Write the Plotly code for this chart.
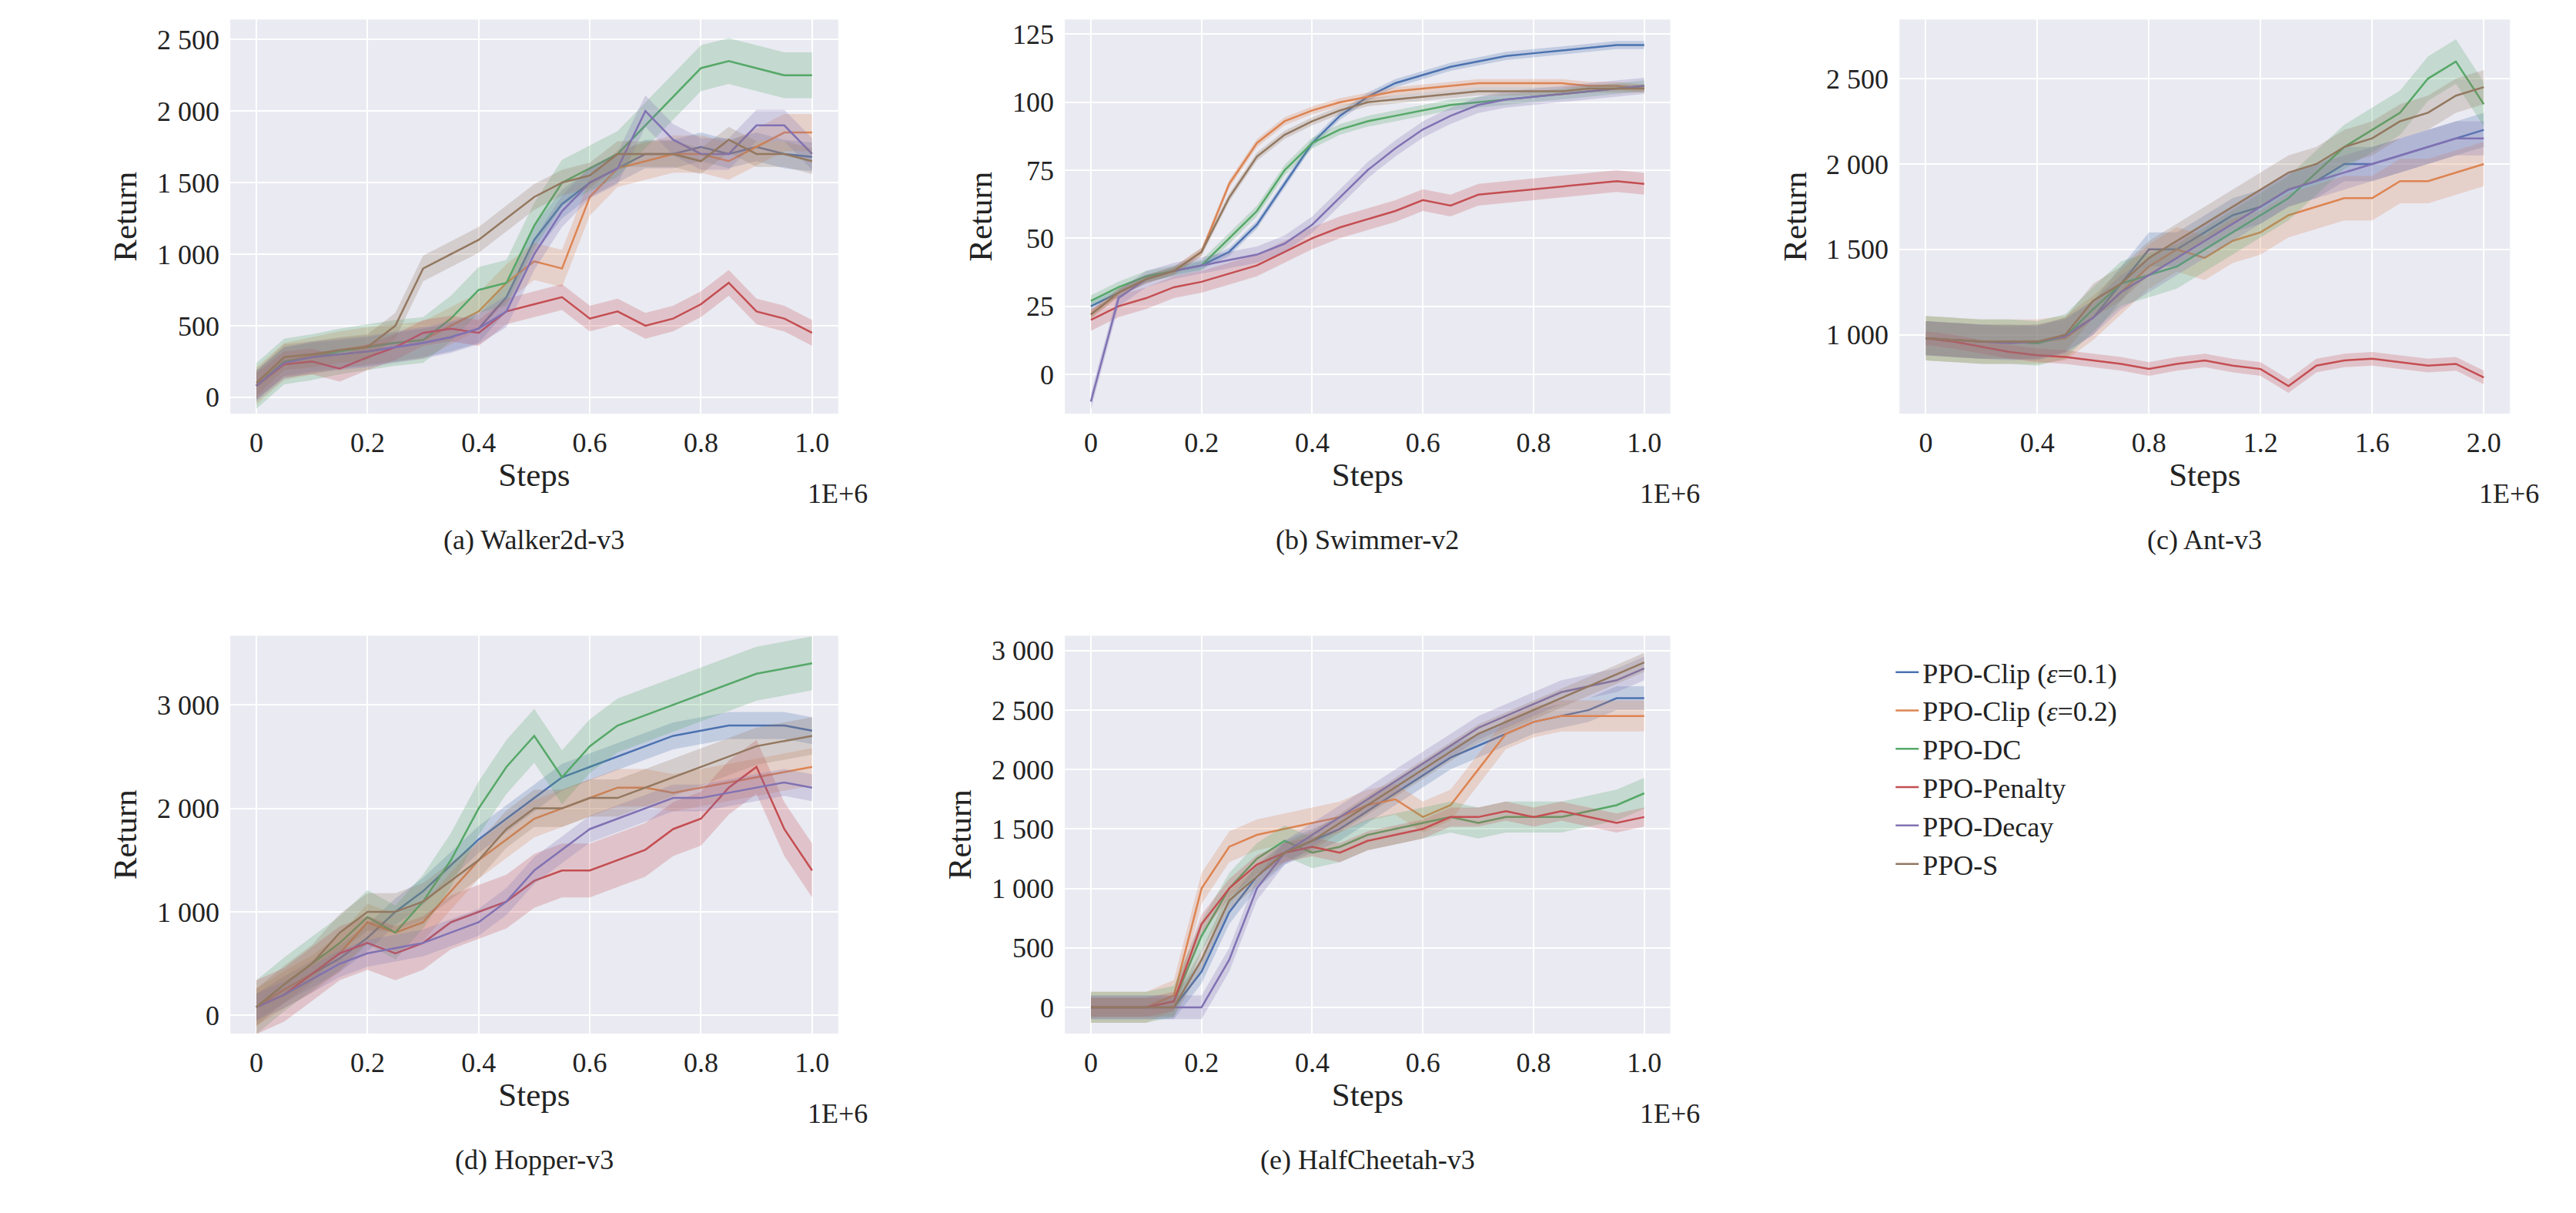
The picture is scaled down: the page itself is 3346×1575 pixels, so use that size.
import plotly.graph_objects as go

names = ['PPO-Clip (<i>ε</i>=0.1)', 'PPO-Clip (<i>ε</i>=0.2)', 'PPO-DC', 'PPO-Penalty', 'PPO-Decay', 'PPO-S']
colors = ['#4C72B0', '#DD8452', '#55A868', '#C44E52', '#8172B3', '#937860']

steps = [i * 0.05 for i in range(21)]
steps_ant = [i * 0.1 for i in range(21)]

walker = [
    [80, 250, 280, 300, 320, 350, 380, 420, 480, 700, 1100, 1350, 1500, 1600, 1700, 1700, 1750, 1700, 1750, 1700, 1680],
    [80, 250, 290, 330, 360, 380, 400, 500, 600, 800, 950, 900, 1400, 1600, 1650, 1700, 1700, 1650, 1750, 1850, 1850],
    [80, 250, 280, 320, 350, 380, 400, 550, 750, 800, 1200, 1500, 1600, 1700, 1900, 2100, 2300, 2350, 2300, 2250, 2250],
    [80, 230, 250, 200, 280, 350, 450, 480, 450, 600, 650, 700, 550, 600, 500, 550, 650, 800, 600, 550, 450],
    [80, 240, 280, 300, 320, 350, 380, 420, 480, 600, 1000, 1300, 1500, 1600, 2000, 1800, 1700, 1700, 1900, 1900, 1700],
    [100, 280, 300, 330, 350, 500, 900, 1000, 1100, 1250, 1400, 1500, 1550, 1700, 1700, 1700, 1650, 1800, 1700, 1700, 1650],
]
walker_band = [100, 130, 160, 90, 110, 90]

swimmer = [
    [25, 30, 35, 38, 40, 45, 55, 70, 85, 95, 102, 107, 110, 113, 115, 117, 118, 119, 120, 121, 121],
    [22, 30, 35, 38, 45, 70, 85, 93, 97, 100, 102, 104, 105, 106, 107, 107, 107, 107, 106, 106, 105],
    [27, 32, 36, 38, 40, 50, 60, 75, 85, 90, 93, 95, 97, 99, 100, 101, 102, 103, 104, 105, 106],
    [20, 25, 28, 32, 34, 37, 40, 45, 50, 54, 57, 60, 64, 62, 66, 67, 68, 69, 70, 71, 70],
    [-10, 28, 35, 38, 40, 42, 44, 48, 55, 65, 75, 83, 90, 95, 99, 101, 102, 103, 104, 105, 106],
    [22, 30, 35, 38, 45, 65, 80, 88, 93, 97, 100, 101, 102, 103, 104, 104, 104, 104, 105, 105, 105],
]
swimmer_band = [1.5, 1.5, 2, 4, 3, 1.5]

ant = [
    [980, 970, 960, 960, 950, 1000, 1100, 1300, 1500, 1500, 1600, 1700, 1750, 1850, 1900, 2000, 2000, 2050, 2100, 2150, 2200],
    [980, 970, 960, 960, 960, 980, 1100, 1250, 1400, 1500, 1450, 1550, 1600, 1700, 1750, 1800, 1800, 1900, 1900, 1950, 2000],
    [980, 970, 960, 960, 950, 990, 1150, 1300, 1350, 1400, 1500, 1600, 1700, 1800, 1950, 2100, 2200, 2300, 2500, 2600, 2350],
    [980, 960, 930, 900, 880, 870, 850, 830, 800, 830, 850, 820, 800, 700, 820, 850, 860, 840, 820, 830, 750],
    [980, 970, 960, 950, 960, 990, 1100, 1250, 1350, 1450, 1550, 1650, 1750, 1850, 1900, 1950, 2000, 2050, 2100, 2150, 2150],
    [980, 970, 960, 960, 960, 1000, 1200, 1300, 1450, 1550, 1650, 1750, 1850, 1950, 2000, 2100, 2150, 2250, 2300, 2400, 2450],
]
ant_band = [100, 130, 130, 40, 100, 100]

hopper = [
    [80, 250, 400, 550, 750, 1000, 1200, 1450, 1700, 1900, 2100, 2300, 2400, 2500, 2600, 2700, 2750, 2800, 2800, 2800, 2750],
    [80, 250, 400, 600, 900, 800, 900, 1200, 1500, 1700, 1900, 2000, 2100, 2200, 2200, 2150, 2200, 2250, 2300, 2350, 2400],
    [80, 300, 500, 700, 950, 800, 1100, 1500, 2000, 2400, 2700, 2300, 2600, 2800, 2900, 3000, 3100, 3200, 3300, 3350, 3400],
    [80, 200, 400, 600, 700, 600, 700, 900, 1000, 1100, 1300, 1400, 1400, 1500, 1600, 1800, 1900, 2200, 2400, 1800, 1400],
    [80, 200, 350, 500, 600, 650, 700, 800, 900, 1100, 1400, 1600, 1800, 1900, 2000, 2100, 2100, 2150, 2200, 2250, 2200],
    [80, 300, 500, 800, 1000, 1000, 1100, 1300, 1500, 1800, 2000, 2000, 2100, 2100, 2200, 2300, 2400, 2500, 2600, 2650, 2700],
]
hopper_band = [130, 180, 260, 260, 130, 180]

cheetah = [
    [0, 0, 0, 0, 300, 800, 1100, 1300, 1400, 1500, 1650, 1800, 1950, 2100, 2200, 2300, 2400, 2450, 2500, 2600, 2600],
    [0, 0, 0, 100, 1000, 1350, 1450, 1500, 1550, 1600, 1700, 1750, 1600, 1700, 2000, 2300, 2400, 2450, 2450, 2450, 2450],
    [0, 0, 0, 50, 600, 1000, 1250, 1400, 1300, 1350, 1450, 1500, 1550, 1600, 1550, 1600, 1600, 1600, 1650, 1700, 1800],
    [0, 0, 0, 50, 700, 1000, 1200, 1300, 1350, 1300, 1400, 1450, 1500, 1600, 1600, 1650, 1600, 1650, 1600, 1550, 1600],
    [0, 0, 0, 0, 0, 400, 1000, 1300, 1450, 1600, 1750, 1900, 2050, 2200, 2350, 2450, 2550, 2650, 2700, 2750, 2850],
    [0, 0, 0, 0, 400, 900, 1100, 1300, 1400, 1550, 1700, 1850, 2000, 2150, 2300, 2400, 2500, 2600, 2700, 2800, 2900],
]
cheetah_band = [100, 130, 130, 80, 100, 80]


def rgba(h, a):
    h = h.lstrip('#')
    return 'rgba(%d,%d,%d,%s)' % (int(h[0:2], 16), int(h[2:4], 16), int(h[4:6], 16), a)


def sp(v):
    return f'{v:,}'.replace(',', ' ')


panels = [
    (walker, walker_band, steps, [0.087, 0.323], [0.664, 0.989], [-115, 2640], [0, 500, 1000, 1500, 2000, 2500],
     [-0.047, 1.047], [0, 0.2, 0.4, 0.6, 0.8, 1.0], '(a) Walker2d-v3'),
    (swimmer, swimmer_band, steps, [0.411, 0.646], [0.664, 0.989], [-14.5, 130.4], [0, 25, 50, 75, 100, 125],
     [-0.047, 1.047], [0, 0.2, 0.4, 0.6, 0.8, 1.0], '(b) Swimmer-v2'),
    (ant, ant_band, steps_ant, [0.735, 0.972], [0.664, 0.989], [538, 2846], [1000, 1500, 2000, 2500],
     [-0.094, 2.094], [0, 0.4, 0.8, 1.2, 1.6, 2.0], '(c) Ant-v3'),
    (hopper, hopper_band, steps, [0.087, 0.323], [0.153, 0.481], [-175, 3667], [0, 1000, 2000, 3000],
     [-0.047, 1.047], [0, 0.2, 0.4, 0.6, 0.8, 1.0], '(d) Hopper-v3'),
    (cheetah, cheetah_band, steps, [0.411, 0.646], [0.153, 0.481], [-221, 3125], [0, 500, 1000, 1500, 2000, 2500, 3000],
     [-0.047, 1.047], [0, 0.2, 0.4, 0.6, 0.8, 1.0], '(e) HalfCheetah-v3'),
]

fig = go.Figure()
font = dict(family='Liberation Serif', size=36, color='#222')
layout = dict(width=3346, height=1575, margin=dict(l=0, r=0, t=0, b=0),
              paper_bgcolor='white', plot_bgcolor='#EAEAF2', font=font, showlegend=True,
              legend=dict(x=0.732, y=0.47, xanchor='left', yanchor='top', bgcolor='rgba(0,0,0,0)',
                          font=dict(family='Liberation Serif', size=36), tracegroupgap=0))
annotations = []
for k, (data, band, xs, xd, yd, yr, yt, xr, xt, cap) in enumerate(panels):
    n = '' if k == 0 else str(k + 1)
    xa, ya = 'x' + n, 'y' + n
    for i, ys in enumerate(data):
        up = [v + band[i] for v in ys]
        lo = [v - band[i] for v in ys]
        fig.add_trace(go.Scatter(x=xs + xs[::-1], y=up + lo[::-1], fill='toself', fillcolor=rgba(colors[i], 0.25),
                                 line=dict(width=0), hoverinfo='skip', showlegend=False, xaxis=xa, yaxis=ya))
        fig.add_trace(go.Scatter(x=xs, y=ys, mode='lines', line=dict(color=colors[i], width=2.5),
                                 name=names[i], showlegend=(k == 0), xaxis=xa, yaxis=ya))
    xtt = ['0' if v == 0 else f'{v:.1f}' for v in xt]
    layout['xaxis' + n] = dict(domain=xd, range=xr, anchor=ya, tickvals=xt, ticktext=xtt, gridcolor='white',
                               gridwidth=2, zeroline=False, showline=False, ticks='outside', ticklen=6,
                               tickcolor='rgba(0,0,0,0)', title=dict(text='Steps', standoff=6))
    layout['yaxis' + n] = dict(domain=yd, range=yr, anchor=xa, tickvals=yt, ticktext=[sp(v) for v in yt],
                               gridcolor='white', gridwidth=2, zeroline=False, showline=False,
                               ticks='outside', ticklen=6, tickcolor='rgba(0,0,0,0)',
                               title=dict(text='Return', standoff=12))
    annotations.append(dict(text='1E+6', xref='paper', yref='paper', x=xd[1] + 0.012, y=yd[0] - 0.066,
                            xanchor='right', yanchor='middle', showarrow=False, font=font))
    annotations.append(dict(text=cap, xref='paper', yref='paper', x=(xd[0] + xd[1]) / 2,
                            y=yd[0] - 0.104, xanchor='center', yanchor='middle',
                            showarrow=False, font=font))
layout['annotations'] = annotations
fig.update_layout(**layout)
fig.write_html('out.html')
